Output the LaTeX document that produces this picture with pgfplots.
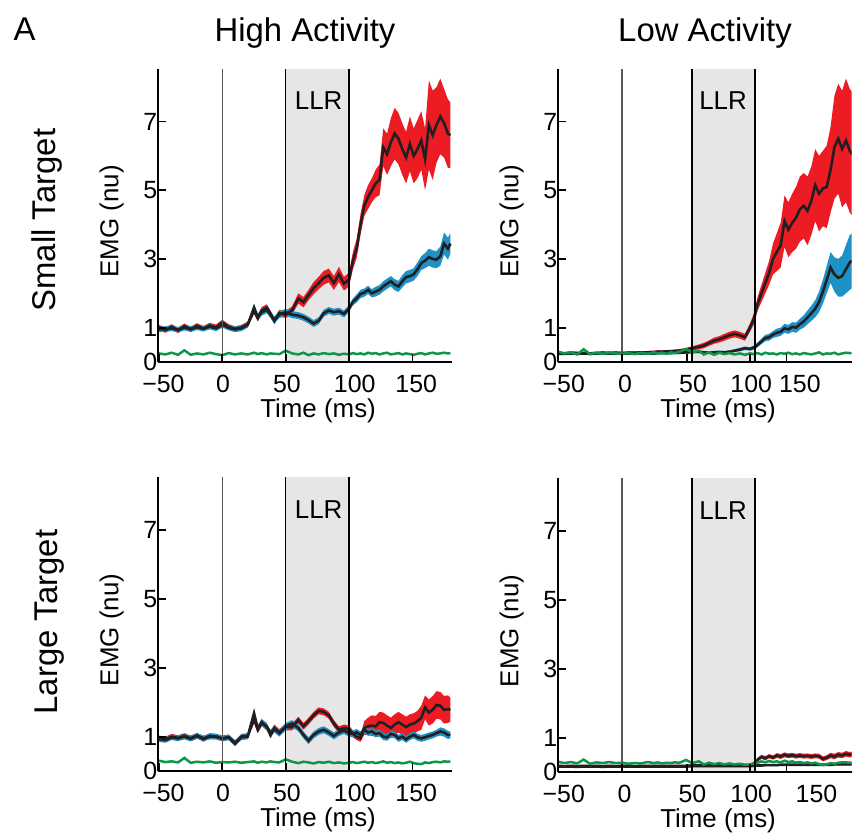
\documentclass[border=0pt]{standalone}
\usepackage{pgfplots}
\pgfplotsset{compat=1.18}
\usepackage{pgfplotstable}
\usepackage{fontspec}
\setmainfont{Liberation Sans}
\definecolor{cred}{RGB}{237,28,36}
\definecolor{cblue}{RGB}{28,146,198}
\definecolor{cgreen}{RGB}{16,150,72}
\definecolor{cmean}{RGB}{35,31,32}
\definecolor{cllr}{RGB}{230,230,230}
\newcommand\tickfont{\fontsize{25}{29}\selectfont}
\newcommand\labfont{\fontsize{26}{30}\selectfont}
\newcommand\titfont{\fontsize{33}{39}\selectfont}
\newcommand\mn{\symbol{"2212}}

% t  rm  rw  bm  bw  g
\pgfplotstableread{
t rm rw bm bw g
-50 1.00 .08 0.95 .08 .25
-45 0.93 .08 0.96 .08 .22
-40 1.02 .08 0.98 .08 .27
-35 0.92 .08 0.94 .08 .21
-30 1.04 .08 1.00 .08 .34
-25 0.95 .08 0.96 .08 .21
-20 1.05 .08 1.01 .08 .25
-15 0.97 .08 0.97 .08 .22
-10 1.06 .08 1.03 .08 .27
-5 1.01 .08 0.98 .08 .23
0 1.15 .08 1.08 .08 .20
5 1.02 .08 1.00 .08 .26
10 0.96 .08 0.95 .08 .22
15 1.00 .08 0.98 .08 .25
20 1.10 .08 1.08 .08 .22
25 1.50 .10 1.58 .12 .27
28 1.28 .10 1.30 .10 .23
31 1.50 .10 1.45 .10 .26
35 1.58 .10 1.52 .10 .22
38 1.40 .10 1.38 .10 .25
41 1.20 .10 1.22 .10 .24
45 1.42 .10 1.38 .10 .23
50 1.38 .10 1.45 .10 .33
55 1.50 .12 1.38 .10 .25
60 1.85 .15 1.35 .10 .22
64 1.74 .15 1.30 .10 .27
68 1.95 .15 1.22 .10 .20
72 2.15 .18 1.12 .10 .25
76 2.30 .18 1.20 .10 .22
80 2.45 .20 1.42 .10 .26
84 2.52 .20 1.50 .10 .23
88 2.30 .20 1.45 .10 .25
92 2.55 .22 1.48 .10 .21
96 2.28 .20 1.40 .10 .24
100 2.40 .20 1.56 .10 .22
103 2.95 .25 1.75 .10 .26
106 3.30 .28 1.85 .12 .23
109 4.00 .30 1.98 .12 .25
112 4.55 .30 2.02 .12 .22
115 4.80 .35 2.10 .12 .27
118 5.00 .35 2.00 .12 .24
121 5.20 .40 2.05 .14 .26
124 5.30 .45 2.10 .14 .22
127 6.25 .55 2.20 .15 .25
130 6.05 .60 2.28 .15 .27
133 6.40 .70 2.35 .15 .22
136 6.65 .75 2.25 .16 .24
139 6.50 .75 2.20 .16 .26
142 6.20 .75 2.35 .18 .22
145 5.95 .75 2.47 .18 .25
148 6.35 .80 2.50 .18 .23
151 6.00 .80 2.55 .18 .21
154 6.20 .85 2.70 .20 .24
157 6.45 .85 2.88 .20 .26
160 5.90 .90 2.95 .22 .22
163 6.90 1.30 3.05 .25 .25
166 6.60 1.30 3.00 .25 .27
169 6.90 1.10 2.98 .25 .24
172 7.15 1.10 3.08 .28 .25
175 6.95 1.00 3.45 .32 .27
178 6.65 1.00 3.30 .32 .25
180 6.60 0.95 3.45 .30 .26
}\tabHS

\pgfplotstableread{
t rm rw bm bw g
-50 .26 .04 .24 .04 .30
-45 .25 .04 .24 .04 .25
-40 .27 .04 .25 .04 .28
-35 .26 .04 .24 .04 .22
-30 .26 .04 .25 .04 .37
-25 .25 .04 .24 .04 .23
-20 .26 .04 .25 .04 .27
-15 .27 .04 .25 .04 .24
-10 .26 .04 .25 .04 .28
-5 .27 .04 .25 .04 .25
0 .26 .04 .24 .04 .24
5 .27 .04 .25 .04 .26
10 .27 .04 .25 .04 .23
15 .28 .04 .25 .04 .27
20 .28 .04 .25 .04 .24
25 .29 .04 .25 .04 .28
28 .30 .04 .26 .04 .25
31 .30 .04 .26 .04 .27
35 .31 .04 .26 .04 .24
38 .31 .04 .26 .04 .28
41 .32 .04 .27 .04 .26
45 .33 .05 .27 .04 .30
50 .36 .05 .28 .04 .38
55 .40 .06 .29 .04 .28
60 .44 .07 .30 .04 .33
64 .48 .08 .28 .04 .22
68 .55 .08 .27 .04 .28
72 .62 .09 .28 .04 .21
76 .66 .09 .29 .04 .27
80 .72 .10 .28 .04 .23
84 .78 .10 .30 .04 .26
88 .82 .10 .33 .04 .22
92 .78 .10 .36 .05 .25
96 .72 .10 .40 .05 .21
100 1.00 .12 .38 .05 .25
103 1.25 .15 .42 .06 .23
106 1.70 .20 .50 .07 .26
109 2.00 .25 .60 .08 .22
112 2.30 .30 .70 .09 .27
115 2.60 .35 .72 .10 .24
118 3.00 .45 .80 .10 .25
121 3.20 .55 .85 .12 .22
124 3.40 .65 .88 .12 .26
127 4.10 .75 .98 .13 .24
130 3.85 .80 .95 .13 .27
133 4.05 .85 1.02 .14 .23
136 4.20 .90 1.00 .15 .25
139 4.45 .95 1.10 .16 .22
142 4.55 .95 1.18 .18 .26
145 4.40 1.00 1.30 .20 .24
148 4.70 1.00 1.42 .22 .22
151 5.15 1.05 1.55 .25 .25
154 4.90 1.10 1.75 .30 .28
157 5.05 1.10 2.05 .35 .22
160 5.10 1.20 2.40 .40 .25
163 5.60 1.25 2.75 .45 .24
166 6.25 1.50 2.55 .50 .27
169 6.50 1.60 2.45 .55 .22
172 6.20 1.70 2.50 .60 .25
175 6.45 1.80 2.70 .70 .27
178 6.15 1.80 2.90 .80 .26
180 6.05 1.80 2.95 .80 .26
}\tabLS

\pgfplotstableread{
t rm rw bm bw g
-50 0.95 .08 0.93 .08 .30
-45 0.92 .08 0.90 .08 .26
-40 1.00 .08 0.98 .08 .28
-35 0.96 .08 0.95 .08 .25
-30 1.02 .08 1.00 .08 .38
-25 0.95 .08 0.94 .08 .24
-20 1.03 .08 1.02 .08 .27
-15 0.93 .08 0.95 .08 .25
-10 1.02 .08 1.00 .08 .28
-5 1.00 .08 1.00 .08 .24
0 0.95 .08 0.94 .08 .26
5 0.98 .08 0.98 .08 .25
10 0.80 .08 0.82 .08 .27
15 1.00 .08 0.98 .08 .24
20 1.02 .08 1.00 .08 .26
25 1.50 .10 1.68 .12 .28
28 1.20 .10 1.22 .10 .24
31 1.40 .10 1.42 .10 .27
35 1.30 .10 1.28 .10 .25
38 1.05 .10 1.10 .10 .28
41 1.25 .10 1.22 .10 .26
45 1.12 .10 1.10 .10 .25
50 1.28 .10 1.30 .10 .34
55 1.28 .10 1.38 .10 .27
60 1.48 .10 1.25 .10 .23
64 1.30 .10 1.05 .10 .27
68 1.45 .10 0.88 .10 .25
72 1.62 .10 1.05 .10 .22
76 1.75 .10 1.15 .10 .26
80 1.72 .10 1.20 .10 .24
84 1.62 .10 1.12 .10 .27
88 1.38 .10 1.02 .10 .23
92 1.20 .10 1.12 .10 .25
96 1.25 .10 1.18 .10 .22
100 1.22 .10 1.10 .10 .24
103 1.08 .10 1.08 .10 .26
106 1.00 .10 1.12 .10 .23
109 0.95 .10 1.05 .10 .25
112 1.25 .20 1.20 .10 .27
115 1.30 .25 1.12 .10 .24
118 1.32 .30 1.15 .10 .26
121 1.30 .30 1.08 .10 .23
124 1.42 .30 1.10 .10 .25
127 1.40 .30 1.00 .10 .28
130 1.32 .30 0.98 .10 .24
133 1.25 .30 1.08 .10 .26
136 1.35 .30 1.05 .10 .23
139 1.42 .30 0.95 .10 .25
142 1.35 .30 1.00 .10 .22
145 1.28 .30 0.92 .10 .24
148 1.35 .30 1.00 .10 .27
151 1.38 .30 1.05 .10 .23
154 1.45 .30 0.98 .10 .21
157 1.55 .35 0.95 .10 .20
160 1.85 .35 0.98 .10 .25
163 1.70 .38 1.02 .10 .23
166 1.78 .40 1.05 .10 .26
169 1.92 .40 1.10 .10 .27
172 1.90 .40 1.15 .12 .25
175 1.78 .40 1.12 .12 .28
178 1.80 .40 1.05 .12 .27
180 1.78 .35 1.05 .10 .27
}\tabHL

\pgfplotstableread{
t rm rw bm bw g
-50 .18 .03 .16 .03 .30
-45 .17 .03 .16 .03 .26
-40 .18 .03 .16 .03 .29
-35 .17 .03 .15 .03 .25
-30 .18 .03 .16 .03 .36
-25 .17 .03 .16 .03 .24
-20 .18 .03 .16 .03 .28
-15 .17 .03 .15 .03 .26
-10 .18 .03 .16 .03 .29
-5 .17 .03 .16 .03 .26
0 .18 .03 .16 .03 .27
5 .18 .03 .16 .03 .24
10 .17 .03 .16 .03 .26
15 .18 .03 .16 .03 .25
20 .18 .03 .16 .03 .29
25 .18 .03 .16 .03 .26
28 .18 .03 .16 .03 .28
31 .18 .03 .16 .03 .25
35 .18 .03 .16 .03 .27
38 .18 .03 .16 .03 .26
41 .18 .03 .16 .03 .28
45 .18 .03 .16 .03 .27
50 .18 .03 .16 .03 .35
55 .19 .03 .17 .03 .26
60 .19 .03 .17 .03 .31
64 .19 .03 .17 .03 .22
68 .19 .03 .17 .03 .27
72 .19 .03 .17 .03 .23
76 .19 .03 .17 .03 .26
80 .19 .03 .17 .03 .22
84 .19 .03 .17 .03 .25
88 .19 .03 .17 .03 .22
92 .20 .03 .17 .03 .24
96 .20 .03 .17 .03 .21
100 .20 .03 .17 .03 .22
103 .25 .04 .18 .03 .25
106 .36 .05 .19 .03 .27
109 .44 .06 .19 .03 .31
112 .40 .06 .20 .03 .28
115 .46 .06 .20 .03 .32
118 .42 .06 .20 .03 .29
121 .48 .07 .20 .03 .31
124 .45 .07 .21 .03 .28
127 .50 .07 .21 .03 .33
130 .47 .07 .21 .03 .29
133 .49 .07 .21 .03 .31
136 .46 .07 .21 .03 .27
139 .48 .07 .21 .03 .29
142 .46 .07 .21 .03 .26
145 .47 .07 .21 .03 .28
148 .45 .07 .21 .03 .25
151 .47 .07 .21 .03 .27
154 .46 .07 .21 .03 .23
157 .38 .07 .21 .03 .20
160 .42 .07 .21 .03 .22
163 .48 .08 .21 .03 .26
166 .45 .08 .22 .03 .24
169 .50 .08 .22 .03 .27
172 .48 .08 .22 .03 .28
175 .53 .08 .22 .03 .28
178 .50 .08 .22 .03 .27
180 .52 .08 .22 .03 .28
}\tabLL

\pgfplotsset{
  panel/.style={
    anchor=south west, scale only axis, width=293.7bp,
    axis lines=left, axis line style={-, line width=2.2bp, black},
    axis on top,
    tick align=inside, major tick length=8bp,
    tick style={line width=1.8bp, black},
    ytick={0,1,3,5,7},
    xticklabels={},
    extra x tick style={major tick length=0pt},
    tick label style={font=\tickfont},
    yticklabel style={anchor=east, inner sep=0.5bp},
    xticklabel style={anchor=base, inner sep=0pt, yshift=-30bp},
    /pgf/number format/assume math mode=true,
    xlabel={Time (ms)}, ylabel={EMG (nu)},
    every axis x label/.style={at={(axis description cs:0.545,0)}, anchor=base, inner sep=0pt, yshift=-55bp, font=\labfont},
    every axis y label/.style={at={(axis description cs:-0.158,0.48)}, anchor=center, inner sep=0pt, rotate=90, font=\labfont},
  },
  leftpanel/.style={panel, xmin=-50.8, xmax=181, xtick={-50,0,50,100,150},
    extra x ticks={-46.5,0.5,51,104.5,153}, extra x tick labels={{\mn50},0,50,100,150}},
  rightpanel/.style={panel, xmin=-50, xmax=179.5, xtick={-50,0,50.5,100,128.6}},
}

% bands (stacked) + means + green for table #1
\newcommand\traces[1]{%
  \addplot[draw=none, stack plots=y, forget plot] table[x=t, y expr=\thisrow{rm}-\thisrow{rw}] {#1};
  \addplot[fill=cred, draw=none, stack plots=y, forget plot] table[x=t, y expr=2*\thisrow{rw}] {#1} \closedcycle;
  \addplot[draw=none, stack plots=y, forget plot] table[x=t, y expr=\thisrow{bm}-\thisrow{bw}-\thisrow{rm}-\thisrow{rw}] {#1};
  \addplot[fill=cblue, draw=none, stack plots=y, forget plot] table[x=t, y expr=2*\thisrow{bw}] {#1} \closedcycle;
  \addplot[cmean, line width=2.6bp, stack plots=false] table[x=t, y=bm] {#1};
  \addplot[cmean, line width=2.6bp, stack plots=false] table[x=t, y=rm] {#1};
  \addplot[cgreen, line width=2.5bp, stack plots=false] table[x=t, y=g] {#1};
}
\newcommand\llrbox[3]{% left, right, top
  \fill[cllr] (axis cs:#1,0) rectangle (axis cs:#2,#3);
}
\newcommand\llrlines[4]{%
  \draw[black!65, line width=1.2bp] (axis cs:0,0) -- (axis cs:0,#3);
  \draw[black, line width=1.4bp] (axis cs:#1,0) -- (axis cs:#1,#3);
  \draw[black, line width=2.2bp] (axis cs:#2,0) -- (axis cs:#2,#3);
  \node[anchor=base, font=\fontsize{26}{30}\selectfont] at (axis cs:#4,7.35) {LLR};
}

\begin{document}
\begin{tikzpicture}
\useasboundingbox (0,0) rectangle (853bp,-836bp);

\node[anchor=base west, font=\titfont] at (10bp,-40bp) {A};
\node[anchor=base, font=\titfont] at (305bp,-41bp) {High Activity};
\node[anchor=base, font=\titfont] at (705bp,-41bp) {Low Activity};
\node[rotate=90, font=\titfont] at (47bp,-220bp) {Small Target};
\node[rotate=90, font=\titfont] at (50bp,-622bp) {Large Target};

% top left
\begin{axis}[leftpanel, at={(158bp,-362bp)}, height=293bp, ymin=0, ymax=8.53]
  \llrbox{50}{100}{8.53}
  \traces{\tabHS}
  \llrlines{50}{100}{8.53}{76}
\end{axis}

% top right
\begin{axis}[rightpanel, at={(558bp,-362bp)}, height=293bp, ymin=0, ymax=8.53,
  extra x ticks={-45.5,2.3,55.5,101,139}, extra x tick labels={{\mn50},0,50,100,150}]
  \llrbox{54.7}{103.9}{8.53}
  \traces{\tabLS}
  \llrlines{54.7}{103.9}{8.53}{79}
\end{axis}

% bottom left
\begin{axis}[leftpanel, at={(158bp,-771bp)}, height=294bp, ymin=0, ymax=8.55]
  \llrbox{50}{100}{8.55}
  \traces{\tabHL}
  \llrlines{50}{100}{8.55}{76}
\end{axis}

% bottom right
\begin{axis}[rightpanel, at={(558bp,-772bp)}, height=294bp, ymin=0, ymax=8.55,
  extra x ticks={-45.5,2,55,101,152}, extra x tick labels={{\mn50},0,50,100,150}]
  \llrbox{54.7}{103.9}{8.55}
  \traces{\tabLL}
  \llrlines{54.7}{103.9}{8.55}{79}
\end{axis}
\end{tikzpicture}
\end{document}
